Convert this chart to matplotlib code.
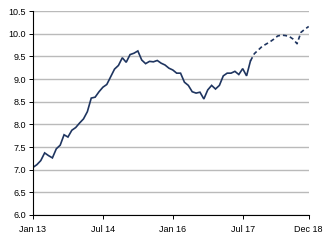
import matplotlib
matplotlib.use("Agg")
import matplotlib.pyplot as plt
import numpy as np

actual = [7.05, 7.11, 7.20, 7.37, 7.31, 7.26, 7.46, 7.54, 7.77, 7.72,
          7.87, 7.93, 8.03, 8.12, 8.28, 8.58, 8.60, 8.72, 8.82, 8.88,
          9.05, 9.22, 9.30, 9.47, 9.37, 9.54, 9.57, 9.62, 9.42, 9.34,
          9.39, 9.38, 9.41, 9.35, 9.31, 9.24, 9.20, 9.13, 9.13, 8.93,
          8.86, 8.72, 8.69, 8.71, 8.56, 8.76, 8.86, 8.78, 8.86, 9.07,
          9.13, 9.13, 9.17, 9.10, 9.23, 9.07, 9.40]
forecast = [9.40, 9.56, 9.64, 9.72, 9.77, 9.82, 9.88, 9.95, 9.97, 9.96,
            9.94, 9.88, 9.78, 10.03, 10.10, 10.16]
tick_months = [0, 18, 36, 54, 71]
tick_labels = ["Jan 13", "Jul 14", "Jan 16", "Jul 17", "Dec 18"]
y_ticks = [6.0, 6.5, 7.0, 7.5, 8.0, 8.5, 9.0, 9.5, 10.0, 10.5]

plt.rcParams['font.family'] = ['Liberation Sans', 'DejaVu Sans']
fig = plt.figure(figsize=(3.35, 2.41), dpi=100)
ax = fig.add_axes([0.0985, 0.108, 0.823, 0.846])

x_act = np.arange(len(actual))
x_fc = np.arange(len(actual) - 1, len(actual) - 1 + len(forecast))
color = "#1f3560"
ax.plot(x_act, actual, color=color, lw=1.2, solid_joinstyle='miter')
ax.plot(x_fc, forecast, color=color, lw=1.2, ls=(0, (2.5, 1.8)))

ax.set_xlim(0, 71)
ax.set_ylim(6.0, 10.5)
ax.set_yticks(y_ticks)
ax.set_yticklabels([f"{v:.1f}" for v in y_ticks])
ax.set_xticks(tick_months)
ax.set_xticklabels(tick_labels)
ax.grid(axis='y', color='#bababa', lw=1.0)
ax.set_axisbelow(True)
for s in ['top', 'right']:
    ax.spines[s].set_visible(False)
for s in ['left', 'bottom']:
    ax.spines[s].set_color('black')
    ax.spines[s].set_linewidth(0.8)
ax.tick_params(axis='both', labelsize=6.5, length=3, width=0.7, pad=2, colors='black')
ax.tick_params(axis='x', pad=4)

fig.savefig("out.png", dpi=100, facecolor='white')
